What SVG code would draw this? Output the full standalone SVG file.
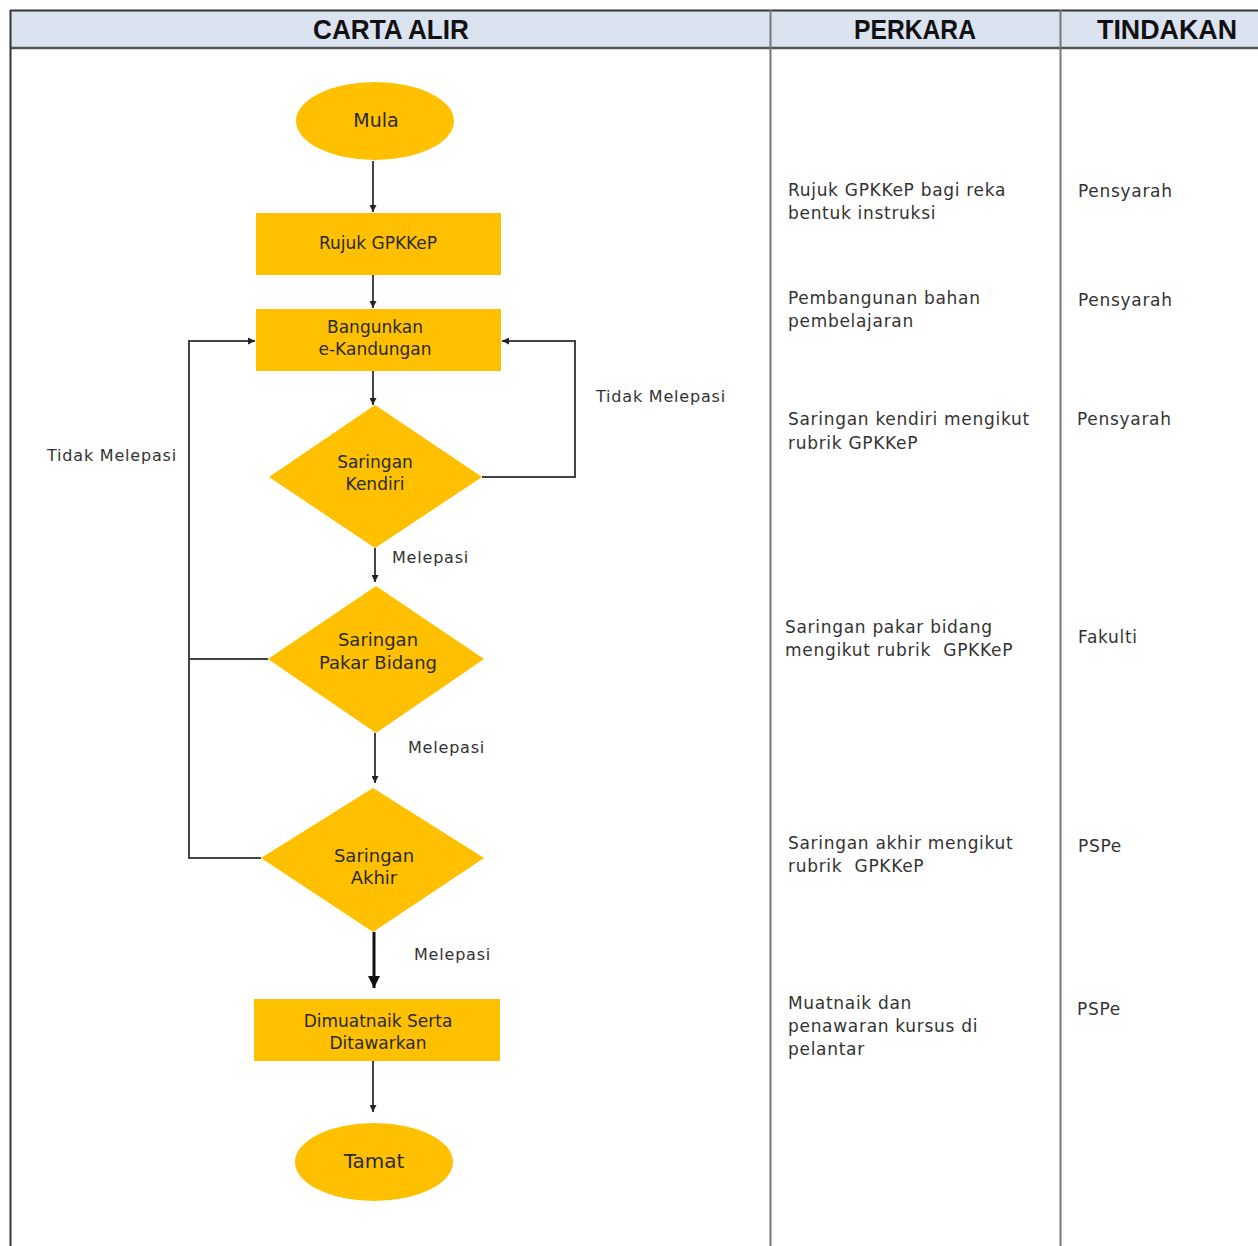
<svg xmlns="http://www.w3.org/2000/svg" width="1258" height="1246" viewBox="0 0 1258 1246">
<defs>
<marker id="ah" viewBox="0 0 10 10" refX="10" refY="5" markerWidth="7" markerHeight="7" markerUnits="userSpaceOnUse" orient="auto"><path d="M0,0 L10,5 L0,10 z" fill="#222"/></marker>
<marker id="ahb" viewBox="0 0 10 10" refX="10" refY="5" markerWidth="12" markerHeight="12" markerUnits="userSpaceOnUse" orient="auto"><path d="M0,0 L10,5 L0,10 z" fill="#111"/></marker>
</defs>
<style>
.n{fill:#FFC000;}
.t{font-family:"DejaVu Sans",sans-serif;font-size:17px;fill:#2a2a2a;text-anchor:middle;}
.lbl{font-family:"DejaVu Sans",sans-serif;font-size:16px;fill:#333;letter-spacing:0.8px;}
.col{font-family:"DejaVu Sans",sans-serif;font-size:17px;fill:#333;letter-spacing:0.7px;white-space:pre;}
.h{font-family:"Liberation Sans",sans-serif;font-weight:bold;font-size:28px;fill:#111;text-anchor:middle;}
.c{fill:none;stroke:#444;stroke-width:2;}
.g{fill:none;stroke:#777;stroke-width:2;}
</style>
<rect x="0" y="0" width="1258" height="1246" fill="#fff"/>
<g id="table">
<rect x="10" y="10" width="1250" height="38" fill="#dbe3f1"/>
<line x1="10" y1="10.5" x2="1258" y2="10.5" stroke="#333" stroke-width="2"/>
<line x1="10" y1="48" x2="1258" y2="48" stroke="#555" stroke-width="2.5"/>
<line x1="10.5" y1="10" x2="10.5" y2="1246" stroke="#333" stroke-width="2"/>
<line x1="770.5" y1="10" x2="770.5" y2="1246" class="g"/>
<line x1="1060.5" y1="10" x2="1060.5" y2="1246" class="g"/>
<text class="h" x="391" y="39" textLength="156" lengthAdjust="spacingAndGlyphs">CARTA ALIR</text>
<text class="h" x="915" y="39" textLength="122" lengthAdjust="spacingAndGlyphs">PERKARA</text>
<text class="h" x="1167" y="39" textLength="140" lengthAdjust="spacingAndGlyphs">TINDAKAN</text>
</g>
<g id="connectors">
<line class="c" x1="373" y1="161" x2="373" y2="212" marker-end="url(#ah)"/>
<line class="c" x1="373" y1="275" x2="373" y2="308" marker-end="url(#ah)"/>
<line class="c" x1="373" y1="371" x2="373" y2="405" marker-end="url(#ah)"/>
<polyline class="c" points="482,477 575,477 575,341 502,341" marker-end="url(#ah)"/>
<line class="c" x1="375" y1="548" x2="375" y2="582" marker-end="url(#ah)"/>
<line class="c" x1="375" y1="733" x2="375" y2="783" marker-end="url(#ah)"/>
<line x1="374" y1="932" x2="374" y2="988" stroke="#111" stroke-width="3" marker-end="url(#ahb)"/>
<line class="c" x1="373" y1="1061" x2="373" y2="1112" marker-end="url(#ah)"/>
<polyline class="c" points="268,659 189,659"/>
<polyline class="c" points="261,858 189,858 189,341 255,341" marker-end="url(#ah)"/>
<text class="lbl" x="392" y="563">Melepasi</text>
<text class="lbl" x="408" y="753">Melepasi</text>
<text class="lbl" x="414" y="960">Melepasi</text>
<text class="lbl" x="47" y="461">Tidak Melepasi</text>
<text class="lbl" x="596" y="402">Tidak Melepasi</text>
</g>
<g id="mula"><ellipse class="n" cx="375" cy="121" rx="79" ry="39"/><text class="t" x="376" y="127" style="font-size:19px">Mula</text></g>
<g id="rujuk"><rect class="n" x="256" y="213" width="245" height="62"/><text class="t" x="378" y="249">Rujuk GPKKeP</text></g>
<g id="bangunkan"><rect class="n" x="256" y="309" width="245" height="62"/><text class="t" x="375" y="333">Bangunkan</text><text class="t" x="375" y="355">e-Kandungan</text></g>
<g id="kendiri"><polygon class="n" points="375,405 482,477 375,548 269,477"/><text class="t" x="375" y="468">Saringan</text><text class="t" x="375" y="490">Kendiri</text></g>
<g id="pakar"><polygon class="n" points="376,586 484,659 376,733 268,659"/><text class="t" x="378" y="646" style="font-size:18px">Saringan</text><text class="t" x="378" y="669" style="font-size:18px">Pakar Bidang</text></g>
<g id="akhir"><polygon class="n" points="373,788 484,858 373,932 261,858"/><text class="t" x="374" y="862" style="font-size:18px">Saringan</text><text class="t" x="374" y="884" style="font-size:18px">Akhir</text></g>
<g id="dimuatnaik"><rect class="n" x="254" y="999" width="246" height="62"/><text class="t" x="378" y="1027">Dimuatnaik Serta</text><text class="t" x="378" y="1049">Ditawarkan</text></g>
<g id="tamat"><ellipse class="n" cx="374" cy="1162" rx="79" ry="39"/><text class="t" x="374" y="1168" style="font-size:20px">Tamat</text></g>
<g id="perkara">
<text class="col" x="788" y="196">Rujuk GPKKeP bagi reka</text>
<text class="col" x="788" y="219">bentuk instruksi</text>
<text class="col" x="788" y="304">Pembangunan bahan</text>
<text class="col" x="788" y="327">pembelajaran</text>
<text class="col" x="788" y="425">Saringan kendiri mengikut</text>
<text class="col" x="788" y="449">rubrik GPKKeP</text>
<text class="col" x="785" y="633">Saringan pakar bidang</text>
<text class="col" x="785" y="656" xml:space="preserve">mengikut rubrik  GPKKeP</text>
<text class="col" x="788" y="849">Saringan akhir mengikut</text>
<text class="col" x="788" y="872" xml:space="preserve">rubrik  GPKKeP</text>
<text class="col" x="788" y="1009">Muatnaik dan</text>
<text class="col" x="788" y="1032">penawaran kursus di</text>
<text class="col" x="788" y="1055">pelantar</text>
</g>
<g id="tindakan">
<text class="col" x="1078" y="197">Pensyarah</text>
<text class="col" x="1078" y="306">Pensyarah</text>
<text class="col" x="1077" y="425">Pensyarah</text>
<text class="col" x="1078" y="643">Fakulti</text>
<text class="col" x="1078" y="852">PSPe</text>
<text class="col" x="1077" y="1015">PSPe</text>
</g>
</svg>
